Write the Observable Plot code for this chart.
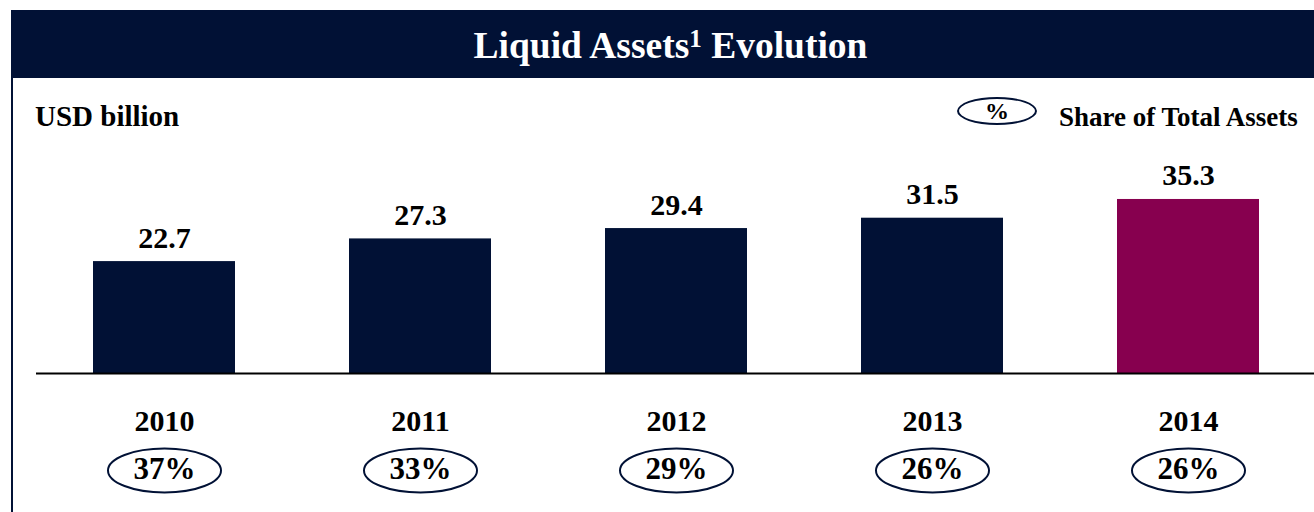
<!DOCTYPE html>
<html>
<head>
<meta charset="utf-8">
<script src="https://cdn.jsdelivr.net/npm/d3@7"></script>
<script src="https://cdn.jsdelivr.net/npm/@observablehq/plot@0.6"></script>
<style>
  html, body { margin: 0; padding: 0; background: #fff; }
  #wrap { position: relative; width: 1314px; height: 512px; overflow: hidden; font-family: "Liberation Serif", "Times New Roman", serif; font-weight: bold; }
  #titlebar { position: absolute; left: 11px; top: 10px; width: 1287px; padding-left: 16px; height: 68px; background: #011135; color: #fff; font-size: 37.5px; text-align: center; line-height: 72px; }
  #titlebar sup { font-size: 25px; vertical-align: top; line-height: 1; position: relative; top: 16px; }
  #leftborder { position: absolute; left: 11px; top: 78px; width: 2px; height: 434px; background: #011135; }
  #unit { position: absolute; left: 35px; top: 100px; font-size: 29px; color: #000; }
  #legend-ell { position: absolute; left: 957px; top: 97px; width: 76px; height: 24px; border: 2px solid #011135; border-radius: 50%; font-size: 24px; text-align: center; line-height: 24px; color: #000; }
  #legend-txt { position: absolute; left: 1059px; top: 102px; font-size: 27px; color: #000; }
  #chart { position: absolute; left: 0; top: 78px; }
</style>
</head>
<body>
<div id="wrap">
  <div id="titlebar">Liquid Assets<sup>1</sup> Evolution</div>
  <div id="leftborder"></div>
  <div id="unit">USD billion</div>
  <div id="legend-ell">%</div>
  <div id="legend-txt">Share of Total Assets</div>
  <div id="chart"></div>
</div>
<script>
const years = ["2010", "2011", "2012", "2013", "2014"];
const values = [22.7, 27.3, 29.4, 31.5, 35.3];
const shares = ["37%", "33%", "29%", "26%", "26%"];
const highlight = [false, false, false, false, true];

const data = years.map((y, i) => ({year: y, value: values[i], share: shares[i], hl: highlight[i]}));

const navy = "#011135";
const magenta = "#87004F";

const ellipse = {
  draw(context) {
    const rx = 56.5, ry = 22, k = 0.5523;
    context.moveTo(rx, 0);
    context.bezierCurveTo(rx, k * ry, k * rx, ry, 0, ry);
    context.bezierCurveTo(-k * rx, ry, -rx, k * ry, -rx, 0);
    context.bezierCurveTo(-rx, -k * ry, -k * rx, -ry, 0, -ry);
    context.bezierCurveTo(k * rx, -ry, rx, -k * ry, rx, 0);
    context.closePath();
  }
};

const font = "Liberation Serif, Times New Roman, serif";

const chart = Plot.plot({
  width: 1314,
  height: 434,
  marginLeft: 36,
  marginRight: 0,
  marginTop: 0,
  marginBottom: 139,
  style: {fontFamily: font, background: "transparent", overflow: "visible"},
  x: {domain: years, range: [36, 1316], paddingInner: 0.445, paddingOuter: 0.2225, axis: null},
  y: {domain: [0, 40], range: [295, 295 - 40 * 4.93], axis: null},
  color: {domain: [false, true], range: [navy, magenta]},
  marks: [
    Plot.barY(data, {x: "year", y: "value", fill: "hl"}),
    Plot.ruleY([0], {stroke: "#000", strokeWidth: 2}),
    Plot.text(data, {x: "year", y: "value", text: d => d.value.toFixed(1), lineAnchor: "bottom", dy: -14, fontSize: 30, fontWeight: "bold", fill: "#000"}),
    Plot.text(data, {x: "year", frameAnchor: "bottom", text: "year", lineAnchor: "bottom", dy: 57, fontSize: 30, fontWeight: "bold", fill: "#000"}),
    Plot.dot(data, {x: "year", frameAnchor: "bottom", dy: 97, symbol: ellipse, r: 20, stroke: navy, strokeWidth: 2, fill: "none"}),
    Plot.text(data, {x: "year", frameAnchor: "bottom", text: "share", lineAnchor: "bottom", dy: 105, fontSize: 31, fontWeight: "bold", fill: "#000"})
  ]
});
document.getElementById("chart").appendChild(chart);
</script>
</body>
</html>
